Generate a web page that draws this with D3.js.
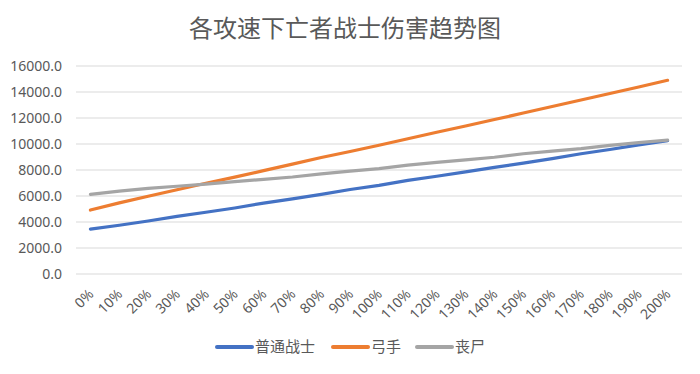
<!DOCTYPE html>
<html>
<head>
<meta charset="utf-8">
<script src="https://cdn.jsdelivr.net/npm/d3@7"></script>
<style>
  body { margin: 0; background: #fff; }
  text { font-family: "Noto Sans", "Noto Sans CJK SC", sans-serif; fill: #595959; }
</style>
</head>
<body>
<svg id="chart" width="700" height="374"></svg>
<script>
var categories = ["0%","10%","20%","30%","40%","50%","60%","70%","80%","90%","100%",
                  "110%","120%","130%","140%","150%","160%","170%","180%","190%","200%"];
var warrior = [3450,3750,4080,4430,4750,5080,5450,5780,6120,6500,6820,
               7200,7520,7850,8200,8530,8880,9250,9580,9930,10260];
var archer = [4920,5470,5980,6480,6980,7450,7950,8450,8960,9420,9900,
              10400,10900,11380,11880,12380,12880,13380,13880,14380,14900];
var zombie = [6130,6380,6580,6750,6920,7100,7280,7460,7700,7920,8100,
              8380,8580,8780,8980,9250,9450,9650,9900,10100,10300];
var yTicks = [0,2000,4000,6000,8000,10000,12000,14000,16000];
var seriesNames = ["普通战士","弓手","丧尸"];
var seriesColors = ["#4472C4","#ED7D31","#A5A5A5"];

var series = [warrior, archer, zombie];
var svg = d3.select("#chart");

var plotLeft = 76, plotRight = 682, plotTop = 66, plotBottom = 274;

var x = d3.scalePoint()
    .domain(categories)
    .range([plotLeft, plotRight])
    .padding(0.5);

var y = d3.scaleLinear()
    .domain([0, 16000])
    .range([plotBottom, plotTop]);

// title
svg.append("text")
    .attr("x", 345)
    .attr("y", 37)
    .attr("text-anchor", "middle")
    .style("font-family", "'Noto Sans CJK SC', sans-serif")
    .style("font-size", "24px")
    .text("各攻速下亡者战士伤害趋势图");

// gridlines
svg.append("g").selectAll("line")
    .data(yTicks)
    .enter().append("line")
    .attr("x1", plotLeft)
    .attr("x2", plotRight)
    .attr("y1", function(d){ return y(d); })
    .attr("y2", function(d){ return y(d); })
    .attr("stroke", "#D9D9D9")
    .attr("stroke-width", 1);

// y labels
svg.append("g").selectAll("text")
    .data(yTicks)
    .enter().append("text")
    .attr("x", 62)
    .attr("y", function(d){ return y(d); })
    .attr("dy", "0.35em")
    .attr("text-anchor", "end")
    .style("font-size", "14px")
    .text(function(d){ return d3.format(".1f")(d); });

// x labels, rotated
svg.append("g").selectAll("text")
    .data(categories)
    .enter().append("text")
    .attr("text-anchor", "end")
    .attr("transform", function(d){ return "translate(" + (x(d) + 4) + ",295) rotate(-45)"; })
    .style("font-size", "14px")
    .text(function(d){ return d; });

// lines
var line = d3.line()
    .x(function(d, i){ return x(categories[i]); })
    .y(function(d){ return y(d); });

svg.append("g").selectAll("path")
    .data(series)
    .enter().append("path")
    .attr("d", line)
    .attr("fill", "none")
    .attr("stroke", function(d, i){ return seriesColors[i]; })
    .attr("stroke-width", 3.2)
    .attr("stroke-linejoin", "round")
    .attr("stroke-linecap", "round");

// legend
var legendX = [217, 333, 417];
var legend = svg.append("g").selectAll("g")
    .data(seriesNames)
    .enter().append("g")
    .attr("transform", function(d, i){ return "translate(" + legendX[i] + ",347)"; });

legend.append("line")
    .attr("x1", 0).attr("x2", 35)
    .attr("y1", 0).attr("y2", 0)
    .attr("stroke", function(d, i){ return seriesColors[i]; })
    .attr("stroke-width", 4)
    .attr("stroke-linecap", "round");

legend.append("text")
    .attr("x", 38)
    .attr("dy", "0.35em")
    .style("font-family", "'Noto Sans CJK SC', sans-serif")
    .style("font-size", "15px")
    .text(function(d){ return d; });
</script>
</body>
</html>
